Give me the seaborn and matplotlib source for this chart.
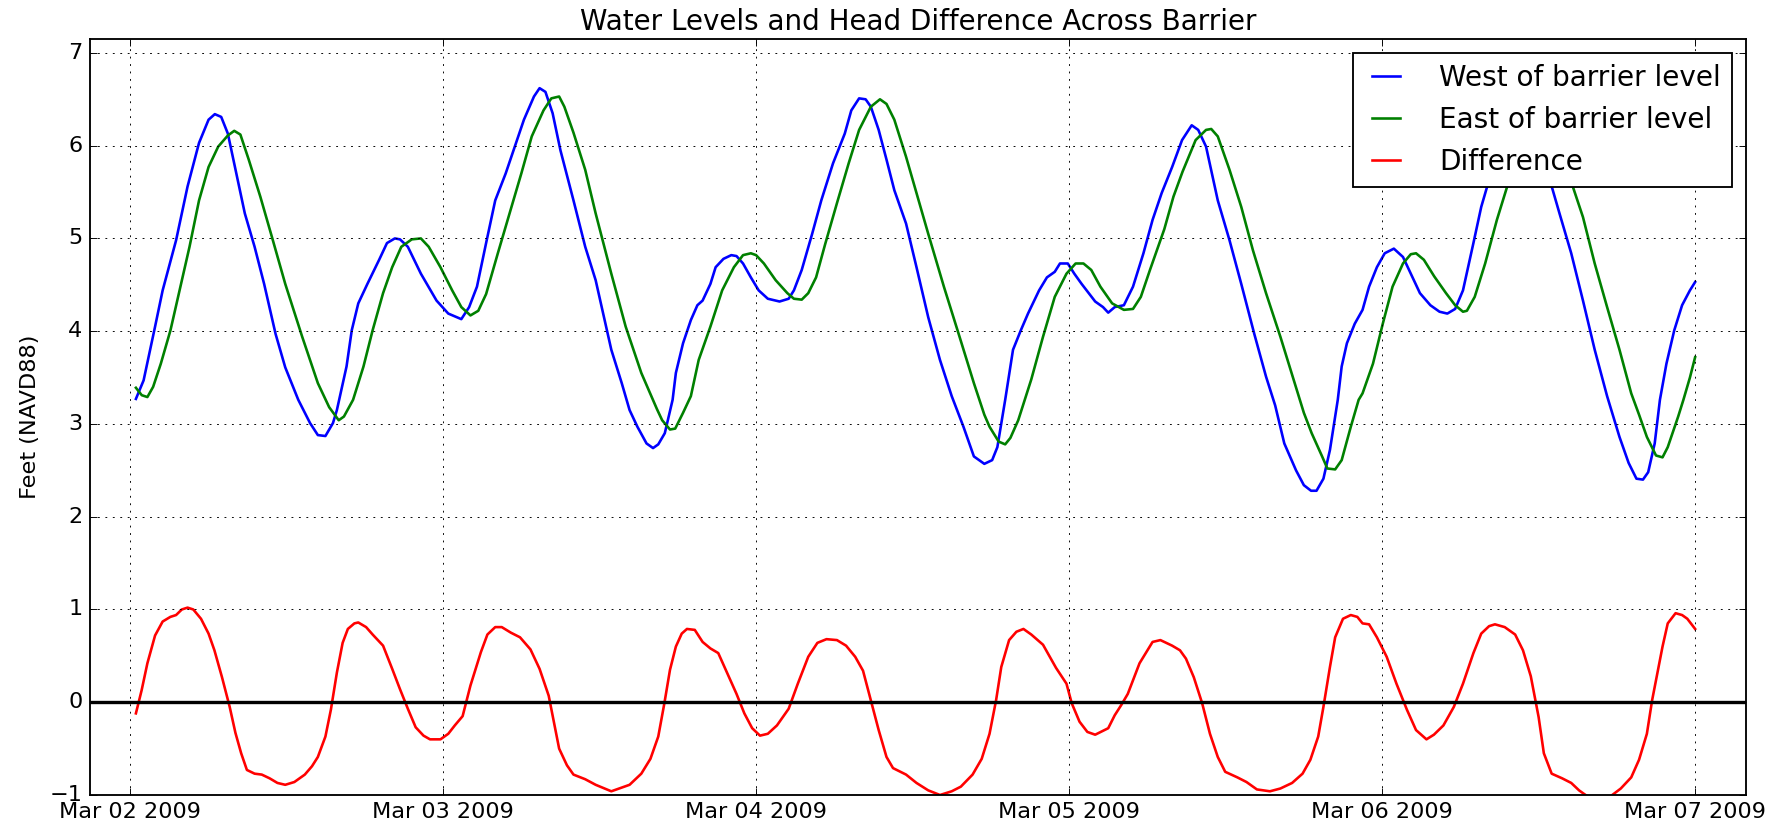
import pandas as pd
import numpy as np
import matplotlib
matplotlib.use("Agg")
import matplotlib.pyplot as plt
import matplotlib.dates as mdates
import seaborn as sns

# Hours after Mar 02 2009 00:00 and levels (feet NAVD88)
west_hours = [0.45, 1.04, 1.92, 2.5, 3.53, 4.41, 5.29, 6.02, 6.5, 6.99, 7.5, 8.2, 8.8, 9.55, 10.28,
              11.16, 11.9, 12.9, 13.8, 14.4, 14.98, 15.56, 15.86, 16.6, 17.0, 17.5, 18.2, 19.1, 19.7,
              20.3, 20.7, 21.3, 22.3, 23.5, 24.4, 25.4, 26.0, 26.6, 27.3, 28.0, 28.8, 29.5, 30.2,
              30.97, 31.4, 31.85, 32.4, 33.0, 34.0, 34.9, 35.7, 36.9, 37.7, 38.3, 38.9, 39.6, 40.1,
              40.5, 41.0, 41.6, 41.85, 42.4, 43.0, 43.5, 43.9, 44.5, 44.9, 45.5, 46.1, 46.5, 47.0,
              47.6, 48.2, 48.9, 49.8, 50.5, 50.9, 51.5, 52.3, 53.0, 53.9, 54.8, 55.3, 55.9, 56.4,
              56.8, 57.4, 58.0, 58.6, 59.5, 60.3, 61.2, 62.1, 63.0, 63.9, 64.7, 65.5, 66.1, 66.5,
              67.1, 67.7, 68.3, 68.85, 69.7, 70.3, 70.9, 71.3, 71.9, 72.4, 72.96, 74.0, 74.6, 75.0,
              75.5, 76.2, 76.9, 77.7, 78.4, 79.1, 79.9, 80.66, 81.4, 81.9, 82.5, 83.4, 84.3, 85.2,
              86.2, 87.1, 87.8, 88.5, 89.4, 90.0, 90.55, 90.97, 91.5, 92.0, 92.6, 92.9, 93.3, 93.9,
              94.5, 95.0, 95.6, 96.2, 96.9, 97.6, 98.2, 98.9, 99.7, 100.4, 101.0, 101.6, 102.2,
              103.0, 103.6, 104.2, 105.0, 105.6, 106.2, 106.6, 107.0, 107.6, 108.3, 108.9, 109.6,
              110.5, 111.4, 112.3, 113.25, 114.2, 114.9, 115.5, 116.0, 116.4, 116.9, 117.3, 117.8,
              118.4, 119.0, 119.6, 120.0]
west_level = [3.27, 3.47, 4.05, 4.44, 4.98, 5.56, 6.03, 6.28, 6.34, 6.31, 6.13, 5.67, 5.27, 4.91, 4.51,
              3.97, 3.61, 3.26, 3.01, 2.88, 2.87, 3.01, 3.15, 3.62, 4.01, 4.30, 4.51, 4.77, 4.95,
              5.00, 4.99, 4.91, 4.62, 4.33, 4.19, 4.13, 4.26, 4.48, 4.95, 5.41, 5.70, 5.99, 6.28,
              6.53, 6.62, 6.58, 6.35, 5.95, 5.41, 4.91, 4.55, 3.80, 3.44, 3.15, 2.97, 2.79, 2.74,
              2.78, 2.90, 3.26, 3.55, 3.87, 4.12, 4.28, 4.33, 4.51, 4.69, 4.78, 4.82, 4.81, 4.73,
              4.58, 4.44, 4.35, 4.32, 4.35, 4.44, 4.66, 5.05, 5.41, 5.81, 6.13, 6.38, 6.51, 6.50,
              6.42, 6.17, 5.85, 5.52, 5.16, 4.69, 4.15, 3.69, 3.30, 2.97, 2.65, 2.57, 2.61, 2.75,
              3.26, 3.80, 4.01, 4.19, 4.44, 4.58, 4.64, 4.73, 4.73, 4.62, 4.51, 4.32, 4.26, 4.20,
              4.26, 4.28, 4.48, 4.84, 5.20, 5.49, 5.77, 6.06, 6.22, 6.17, 5.99, 5.41, 4.98, 4.51,
              3.97, 3.51, 3.20, 2.79, 2.50, 2.34, 2.28, 2.28, 2.41, 2.72, 3.26, 3.62, 3.87, 4.08,
              4.23, 4.48, 4.69, 4.84, 4.89, 4.80, 4.62, 4.41, 4.28, 4.21, 4.19, 4.24, 4.44,
              4.95, 5.34, 5.63, 6.00, 6.30, 6.44, 6.47, 6.44, 6.25, 5.92, 5.61, 5.27,
              4.84, 4.33, 3.80, 3.30, 2.86, 2.58, 2.41, 2.40, 2.48, 2.79, 3.26, 3.65,
              4.01, 4.28, 4.44, 4.53]

east_hours = [0.45, 0.9, 1.33, 1.77, 2.36, 3.1, 3.8, 4.56, 5.29, 6.02, 6.76, 7.5, 7.99, 8.46, 9.1,
              9.99, 10.87, 11.9, 13.2, 14.4, 15.27, 16.0, 16.4, 17.1, 17.9, 18.6, 19.4, 20.1, 20.8,
              21.6, 22.3, 22.9, 23.8, 24.7, 25.4, 26.1, 26.7, 27.3, 28.2, 29.1, 30.0, 30.8, 31.7,
              32.3, 32.9, 33.3, 34.0, 34.9, 35.7, 36.9, 38.0, 39.2, 40.4, 40.8, 41.4, 41.8, 42.4,
              43.0, 43.6, 44.5, 45.4, 46.3, 47.0, 47.6, 48.0, 48.6, 49.5, 50.4, 50.9, 51.5, 52.0,
              52.6, 53.3, 54.2, 55.1, 55.9, 56.8, 57.5, 58.0, 58.6, 59.5, 60.3, 61.2, 62.4, 63.6,
              64.7, 65.5, 65.9, 66.6, 67.1, 67.5, 68.1, 68.6, 69.1, 70.0, 70.9, 71.8, 72.5, 73.1,
              73.7, 74.4, 75.3, 76.2, 76.9, 77.5, 78.2, 79.3, 80.0, 80.7, 81.7, 82.5, 82.9, 83.4,
              84.3, 85.2, 86.1, 87.1, 88.2, 89.5, 90.0, 90.6, 91.4, 91.8, 92.4, 92.9, 93.6, 94.2,
              94.5, 95.3, 96.05, 96.8, 97.6, 98.2, 98.6, 99.2, 100.0, 100.9, 101.6, 102.2, 102.5,
              103.1, 103.9, 104.8, 105.7, 106.4, 107.0, 107.6, 108.1, 108.6, 109.2, 109.9, 110.5,
              111.4, 112.3, 113.25, 114.2, 115.1, 115.7, 116.3, 117.0, 117.5, 117.9, 118.7, 119.1,
              119.6, 120.0]
east_level = [3.39, 3.31, 3.29, 3.40, 3.65, 4.01, 4.44, 4.91, 5.41, 5.77, 5.99, 6.11, 6.16, 6.12, 5.85,
              5.45, 5.02, 4.51, 3.94, 3.44, 3.18, 3.04, 3.08, 3.26, 3.62, 4.01, 4.41, 4.69, 4.91,
              4.99, 5.00, 4.91, 4.69, 4.44, 4.26, 4.17, 4.22, 4.40, 4.84, 5.27, 5.70, 6.10, 6.38,
              6.51, 6.53, 6.42, 6.14, 5.74, 5.27, 4.62, 4.05, 3.55, 3.16, 3.04, 2.94, 2.95, 3.12,
              3.30, 3.69, 4.05, 4.44, 4.69, 4.82, 4.84, 4.82, 4.73, 4.55, 4.41, 4.35, 4.34, 4.41,
              4.58, 4.94, 5.38, 5.81, 6.17, 6.42, 6.50, 6.45, 6.28, 5.88, 5.49, 5.05, 4.48, 3.94,
              3.44, 3.10, 2.97, 2.81, 2.78, 2.85, 3.04, 3.26, 3.48, 3.94, 4.37, 4.62, 4.73, 4.73,
              4.66, 4.48, 4.30, 4.23, 4.24, 4.37, 4.66, 5.10, 5.45, 5.72, 6.06, 6.17, 6.18, 6.10,
              5.74, 5.34, 4.87, 4.41, 3.94, 3.35, 3.12, 2.90, 2.65, 2.52, 2.51, 2.61, 2.97, 3.26,
              3.33, 3.65, 4.08, 4.48, 4.73, 4.83, 4.84, 4.77, 4.59, 4.41, 4.28, 4.21, 4.22,
              4.37, 4.73, 5.20, 5.61, 5.95, 6.22, 6.38, 6.42, 6.36, 6.12, 5.85, 5.61,
              5.23, 4.73, 4.26, 3.80, 3.33, 3.10, 2.86, 2.66, 2.64, 2.75, 3.08, 3.26,
              3.50, 3.72]

diff_hours = [0.45, 0.89, 1.33, 1.92, 2.5, 3.09, 3.53, 3.97, 4.41, 4.85, 5.44, 6.02, 6.47, 7.05, 7.64,
              8.08, 8.52, 8.96, 9.55, 10.1, 10.7, 11.3, 11.9, 12.6, 13.4, 13.95, 14.4, 14.98, 15.4,
              15.86, 16.3, 16.7, 17.2, 17.5, 18.1, 18.6, 19.4, 20.1, 20.7, 21.3, 21.9, 22.5, 23.0,
              23.8, 24.4, 24.9, 25.5, 26.1, 26.9, 27.4, 28.0, 28.5, 29.2, 29.9, 30.7, 31.4, 32.1,
              32.9, 33.5, 34.0, 34.9, 35.7, 36.9, 38.3, 39.2, 39.9, 40.5, 40.97, 41.4, 41.85, 42.3,
              42.7, 43.3, 43.9, 44.5, 45.1, 45.8, 46.5, 47.1, 47.7, 48.3, 48.9, 49.6, 50.5, 51.2,
              52.0, 52.7, 53.4, 54.2, 54.9, 55.6, 56.2, 56.8, 57.4, 58.0, 58.5, 59.5, 60.3, 61.2,
              62.1, 63.0, 63.7, 64.6, 65.3, 65.9, 66.4, 66.8, 67.4, 67.96, 68.5, 69.1, 70.0, 71.0,
              71.8, 72.2, 72.8, 73.4, 74.0, 75.0, 75.5, 76.0, 76.5, 77.4, 78.4, 79.0, 79.9, 80.5,
              80.96, 81.56, 82.2, 82.8, 83.4, 83.97, 84.9, 85.6, 86.4, 87.4, 88.2, 89.1, 89.9, 90.5,
              91.1, 91.5, 92.0, 92.4, 93.0, 93.6, 94.1, 94.5, 95.0, 95.6, 96.35, 97.1, 97.9, 98.6,
              99.4, 99.97, 100.7, 101.5, 102.2, 103.0, 103.6, 104.2, 104.65, 105.4, 106.2, 106.8,
              107.4, 108.0, 108.4, 109.0, 109.8, 110.5, 111.1, 111.7, 112.3, 113.0, 113.55, 114.3,
              115.1, 115.7, 116.3, 116.7, 117.2, 117.5, 117.9, 118.5, 119.0, 119.4, 120.0]
diff_level = [-0.12, 0.13, 0.42, 0.72, 0.87, 0.92, 0.94, 1.00, 1.02, 1.00, 0.90, 0.74, 0.56, 0.27, -0.05,
              -0.33, -0.55, -0.73, -0.77, -0.78, -0.82, -0.87, -0.89, -0.86, -0.78, -0.69, -0.59, -0.37, -0.08,
              0.32, 0.64, 0.79, 0.85, 0.86, 0.81, 0.73, 0.61, 0.36, 0.14, -0.07, -0.27, -0.36, -0.40,
              -0.40, -0.34, -0.25, -0.15, 0.18, 0.54, 0.73, 0.81, 0.81, 0.75, 0.70, 0.57, 0.36, 0.07,
              -0.50, -0.68, -0.78, -0.83, -0.89, -0.96, -0.89, -0.77, -0.61, -0.37, -0.01, 0.35, 0.60, 0.74,
              0.79, 0.78, 0.65, 0.58, 0.53, 0.31, 0.09, -0.12, -0.28, -0.36, -0.34, -0.25, -0.07, 0.20,
              0.49, 0.64, 0.68, 0.67, 0.61, 0.49, 0.34, 0.02, -0.30, -0.59, -0.71, -0.78, -0.87, -0.95,
              -1.00, -0.96, -0.91, -0.78, -0.61, -0.34, 0.02, 0.38, 0.67, 0.76, 0.79, 0.73, 0.62, 0.37,
              0.20, -0.01, -0.21, -0.32, -0.35, -0.28, -0.14, -0.03, 0.09, 0.42, 0.65, 0.67, 0.61, 0.56,
              0.47, 0.27, -0.01, -0.34, -0.59, -0.75, -0.81, -0.86, -0.94, -0.96, -0.93, -0.87, -0.77, -0.62,
              -0.37, -0.05, 0.38, 0.70, 0.90, 0.94, 0.92, 0.85, 0.84, 0.70, 0.49, 0.20, -0.08, -0.30,
              -0.40, -0.35, -0.25, -0.05, 0.20, 0.53, 0.74, 0.82, 0.84, 0.81, 0.73, 0.56,
              0.28, -0.16, -0.55, -0.77, -0.82, -0.87, -0.95, -1.01, -1.05, -1.05, -1.01, -0.93,
              -0.81, -0.62, -0.34, 0.02, 0.38, 0.60, 0.85, 0.96, 0.94, 0.90, 0.79]

start = pd.Timestamp("2009-03-02")


def make_frame(hours, level):
    return pd.DataFrame({"time": start + pd.to_timedelta(hours, unit="h"), "level": level})


west = make_frame(west_hours, west_level)
east = make_frame(east_hours, east_level)
diff = make_frame(diff_hours, diff_level)

# old-school matplotlib look (inward ticks on all sides, dotted grid)
plt.style.use("classic")
plt.rcParams["font.family"] = ["DejaVu Sans"]

dpi = 134
fig = plt.figure(figsize=(1787 / dpi, 827 / dpi), dpi=dpi, facecolor="white")
ax = fig.add_subplot(111)
fig.subplots_adjust(left=90 / 1787, right=1746 / 1787, top=1 - 39 / 827, bottom=1 - 795 / 827)

sns.lineplot(data=west, x="time", y="level", ax=ax, color="b", lw=1.4,
             label="West of barrier level", estimator=None)
sns.lineplot(data=east, x="time", y="level", ax=ax, color="g", lw=1.4,
             label="East of barrier level", estimator=None)
sns.lineplot(data=diff, x="time", y="level", ax=ax, color="r", lw=1.4,
             label="Difference", estimator=None)
ax.axhline(0, color="k", lw=1.8)

ax.set_xlim(start - pd.Timedelta(hours=3.07), start + pd.Timedelta(hours=123.9))
ax.set_ylim(-1, 7.15)
ax.xaxis.set_major_locator(mdates.DayLocator())
ax.xaxis.set_major_formatter(mdates.DateFormatter("%b %d %Y"))
ax.set_yticks(range(-1, 8))
ax.grid(True)

ax.set_title("Water Levels and Head Difference Across Barrier", fontsize=14.9)
ax.set_xlabel("")
ax.set_ylabel("Feet (NAVD88)")
ax.legend(loc="upper right", fontsize=15, handlelength=1.6, handletextpad=1.1)

fig.savefig("out.png", dpi=dpi, facecolor="white")
